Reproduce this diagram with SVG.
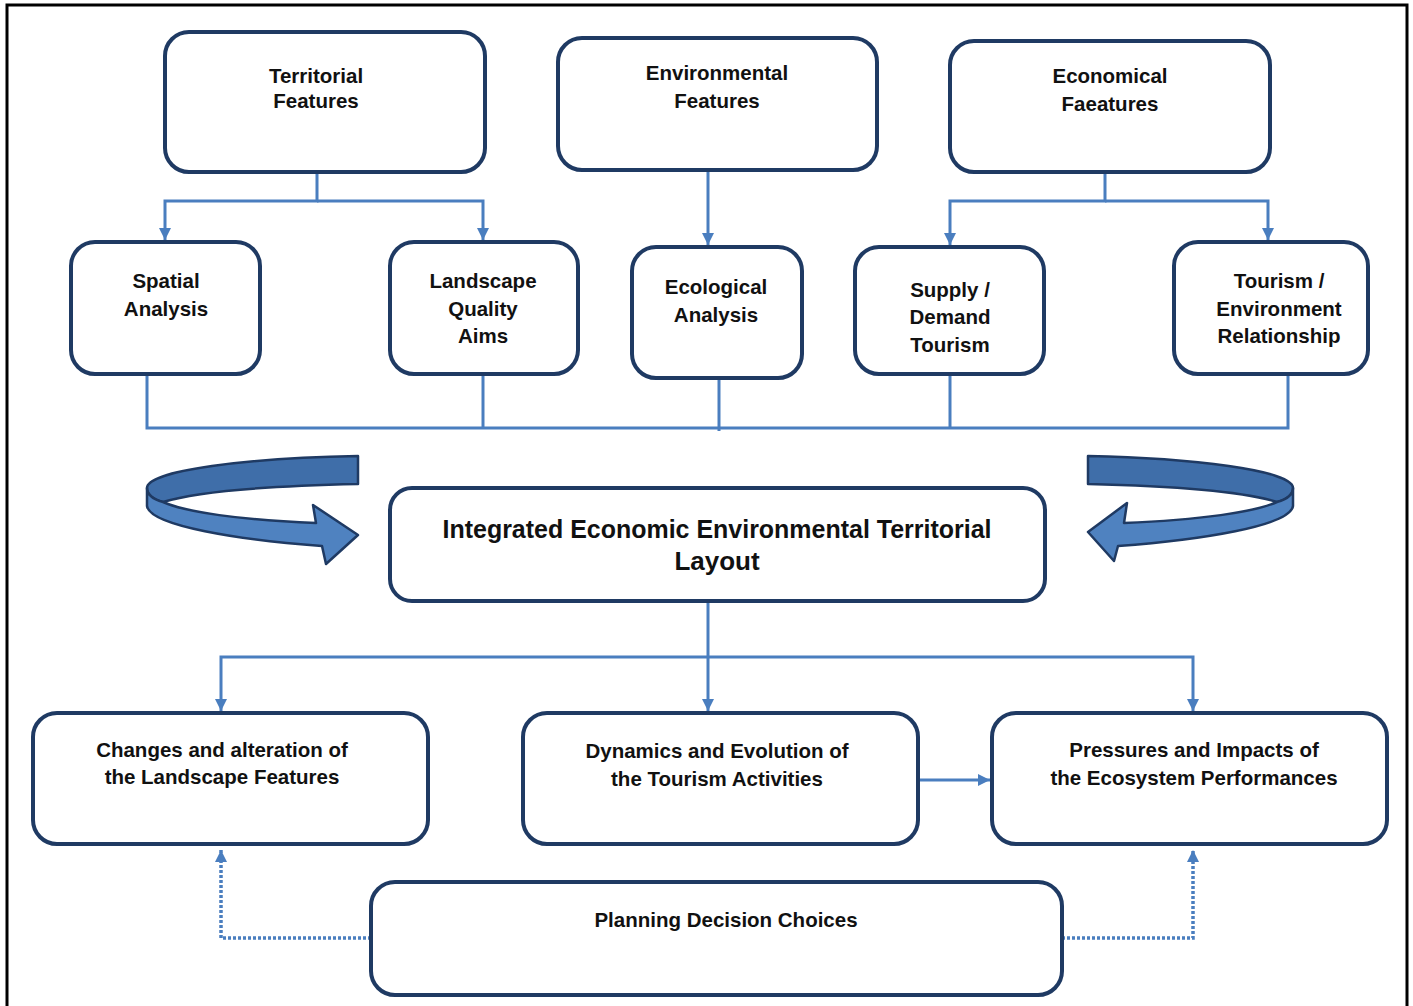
<svg xmlns="http://www.w3.org/2000/svg" width="1413" height="1006" viewBox="0 0 1413 1006">
<defs>
<style>
.box{fill:#fff;stroke:#1F3A63;stroke-width:4}
.t{font-family:"Liberation Sans",Arial,sans-serif;font-weight:bold;font-size:20.5px;fill:#111;text-anchor:middle}
.big{font-size:26px}
.c{fill:none;stroke:#4A7EBF;stroke-width:3}
.d{fill:none;stroke:#4A7EBF;stroke-width:3.5;stroke-dasharray:3 2}
.dark{fill:#3F6EA9;stroke:#1F3A63;stroke-width:2.5;stroke-linejoin:round}
.light{fill:#4F82C0;stroke:#1F3A63;stroke-width:2.5;stroke-linejoin:round}
</style>
<marker id="ah" viewBox="0 0 12 12" refX="12" refY="6" markerWidth="12" markerHeight="12" markerUnits="userSpaceOnUse" orient="auto">
<path d="M0,0 L12,6 L0,12 Z" fill="#4A7EBF"/>
</marker>
</defs>
<rect width="1413" height="1006" fill="#fff"/>
<path d="M7,1006 L7,5 L1407,5 L1407,1006" fill="none" stroke="#000" stroke-width="3"/>

<g id="connectors">
<path class="c" d="M317,172 V201 H165 V240" marker-end="url(#ah)"/>
<path class="c" d="M317,201 H483 V240" marker-end="url(#ah)"/>
<path class="c" d="M708,170 V245" marker-end="url(#ah)"/>
<path class="c" d="M1105,172 V201 H950 V245" marker-end="url(#ah)"/>
<path class="c" d="M1105,201 H1268 V240" marker-end="url(#ah)"/>
<path class="c" d="M147,374 V428 H1288 V374"/>
<path class="c" d="M483,374 V428"/>
<path class="c" d="M719,378 V431"/>
<path class="c" d="M950,374 V428"/>
<path class="c" d="M708,601 V711" marker-end="url(#ah)"/>
<path class="c" d="M708,657 H221 V711" marker-end="url(#ah)"/>
<path class="c" d="M708,657 H1193 V711" marker-end="url(#ah)"/>
<path class="c" d="M918,780 H990" marker-end="url(#ah)"/>
<path class="d" d="M371,938 H221 V850" marker-end="url(#ah)"/>
<path class="d" d="M1062,938 H1193 V850" marker-end="url(#ah)"/>
</g>

<g id="arrow-left">
<path class="dark" d="M358,456 L358,484 C265,486 195,492 163,502 C152,499 147,494 147,488 C147,470 250,458 358,456 Z"/>
<path class="light" d="M147,488 L147,506 C150,526 240,540 322,546 L326,564 L358,535 L313,505 L316,523 C240,520 185,512 163,502 C152,499 147,494 147,488 Z"/>
</g>
<g id="arrow-right" transform="translate(1440,-3) scale(-1,1)">
<path class="dark" d="M352,459 L352,487 C265,489 195,495 163,505 C152,502 147,497 147,491 C147,473 250,461 352,459 Z"/>
<path class="light" d="M147,491 L147,509 C150,529 240,543 322,549 L326,564 L352,535 L313,506 L316,526 C240,523 185,515 163,505 C152,502 147,497 147,491 Z"/>
</g>

<g id="n-territorial"><rect class="box" x="165" y="32" width="320" height="140" rx="24"/>
<text class="t" x="316" y="83">Territorial</text><text class="t" x="316" y="108">Features</text></g>
<g id="n-environmental"><rect class="box" x="558" y="38" width="319" height="132" rx="24"/>
<text class="t" x="717" y="80">Environmental</text><text class="t" x="717" y="108">Features</text></g>
<g id="n-economical"><rect class="box" x="950" y="41" width="320" height="131" rx="24"/>
<text class="t" x="1110" y="83">Economical</text><text class="t" x="1110" y="111">Faeatures</text></g>

<g id="n-spatial"><rect class="box" x="71" y="242" width="189" height="132" rx="24"/>
<text class="t" x="166" y="288">Spatial</text><text class="t" x="166" y="316">Analysis</text></g>
<g id="n-landscape"><rect class="box" x="390" y="242" width="188" height="132" rx="24"/>
<text class="t" x="483" y="288">Landscape</text><text class="t" x="483" y="316">Quality</text><text class="t" x="483" y="343">Aims</text></g>
<g id="n-ecological"><rect class="box" x="632" y="247" width="170" height="131" rx="24"/>
<text class="t" x="716" y="294">Ecological</text><text class="t" x="716" y="322">Analysis</text></g>
<g id="n-supply"><rect class="box" x="855" y="247" width="189" height="127" rx="24"/>
<text class="t" x="950" y="297">Supply /</text><text class="t" x="950" y="324">Demand</text><text class="t" x="950" y="352">Tourism</text></g>
<g id="n-tourism"><rect class="box" x="1174" y="242" width="194" height="132" rx="24"/>
<text class="t" x="1279" y="288">Tourism /</text><text class="t" x="1279" y="316">Environment</text><text class="t" x="1279" y="343">Relationship</text></g>

<g id="n-integrated"><rect class="box" x="390" y="488" width="655" height="113" rx="22"/>
<text class="t big" x="717" y="538" textLength="549" lengthAdjust="spacingAndGlyphs">Integrated Economic Environmental Territorial</text>
<text class="t big" x="717" y="570">Layout</text></g>

<g id="n-changes"><rect class="box" x="33" y="713" width="395" height="131" rx="24"/>
<text class="t" x="222" y="757">Changes and alteration of</text><text class="t" x="222" y="784">the Landscape Features</text></g>
<g id="n-dynamics"><rect class="box" x="523" y="713" width="395" height="131" rx="24"/>
<text class="t" x="717" y="758">Dynamics and Evolution of</text><text class="t" x="717" y="786">the Tourism Activities</text></g>
<g id="n-pressures"><rect class="box" x="992" y="713" width="395" height="131" rx="24"/>
<text class="t" x="1194" y="757">Pressures and Impacts of</text><text class="t" x="1194" y="785">the Ecosystem Performances</text></g>

<g id="n-planning"><rect class="box" x="371" y="882" width="691" height="113" rx="24"/>
<text class="t" x="726" y="927">Planning Decision Choices</text></g>
</svg>
